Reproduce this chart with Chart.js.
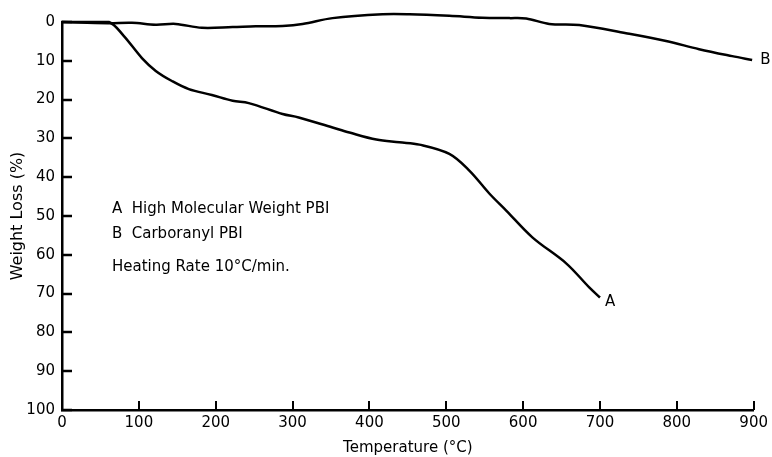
<!DOCTYPE html>
<html lang="en">
<head>
    <meta charset="UTF-8">
    <title>Weight Loss of PBI</title>
    <script src="https://cdn.jsdelivr.net/npm/chart.js"></script>
    <style>
        html, body { margin: 0; padding: 0; background: #fff; }
        #wrap { width: 772px; height: 457px; }
    </style>
</head>
<body>
    <div id="wrap"><canvas id="tgaChart" width="772" height="457"></canvas></div>
    <script>
        // curve A: High Molecular Weight PBI
        const tempA = [0, 30, 61, 80, 104, 122, 143, 165, 195, 222, 243, 287, 308, 352, 374, 409, 439, 465, 504, 530, 556, 578, 612, 656, 686, 700];
        const lossA = [0, 0, 0, 3.5, 9.3, 12.6, 15.2, 17.3, 18.8, 20.3, 20.9, 23.7, 24.6, 27.2, 28.5, 30.3, 31.0, 31.6, 34.0, 38.3, 44.2, 48.6, 55.5, 62.2, 68.4, 71];
        // curve B: Carboranyl PBI
        const tempB = [0, 60, 91, 122, 148, 182, 222, 252, 287, 313, 352, 417, 452, 504, 547, 582, 604, 634, 673, 734, 786, 829, 872, 898];
        const lossB = [0, 0.3, 0.2, 0.7, 0.5, 1.5, 1.3, 1.1, 1.0, 0.5, -1.0, -2.0, -2.0, -1.6, -1.1, -1.0, -0.9, 0.5, 0.8, 2.9, 4.9, 7.0, 8.8, 9.8];
        const xTicks = [0, 100, 200, 300, 400, 500, 600, 700, 800, 900];
        const yTicks = [0, 10, 20, 30, 40, 50, 60, 70, 80, 90, 100];
        const notes = ['A  High Molecular Weight PBI', 'B  Carboranyl PBI', 'Heating Rate 10\u00B0C/min.'];

        const FONT = 'DejaVu Sans';

        // ticks on both axes point into the plot; also the A / B curve labels and the notes
        const extras = {
            id: 'extras',
            afterDraw(chart) {
                const c = chart.ctx, xs = chart.scales.x, ys = chart.scales.y, area = chart.chartArea;
                c.save();
                c.strokeStyle = '#000';
                c.lineWidth = 2;
                xTicks.forEach(t => {
                    const px = Math.round(xs.getPixelForValue(t));
                    c.beginPath();
                    c.moveTo(px, area.bottom);
                    c.lineTo(px, area.bottom - 9);
                    c.stroke();
                });
                c.lineWidth = 2.5;
                yTicks.forEach(t => {
                    const py = Math.round(ys.getPixelForValue(t));
                    c.beginPath();
                    c.moveTo(area.left - 1, py);
                    c.lineTo(area.left + 10, py);
                    c.stroke();
                });
                c.fillStyle = '#000';
                c.font = '15px ' + FONT;
                c.textBaseline = 'middle';
                c.textAlign = 'left';
                c.fillText('A', xs.getPixelForValue(tempA[tempA.length - 1]) + 5, ys.getPixelForValue(lossA[lossA.length - 1]) + 5);
                c.fillText('B', xs.getPixelForValue(tempB[tempB.length - 1]) + 8, ys.getPixelForValue(lossB[lossB.length - 1]));
                const lx = xs.getPixelForValue(65);
                c.fillText(notes[0], lx, ys.getPixelForValue(48.2));
                c.fillText(notes[1], lx, ys.getPixelForValue(54.7));
                c.fillText(notes[2], lx, ys.getPixelForValue(63.3));
                c.restore();
            }
        };

        const ctx = document.getElementById('tgaChart').getContext('2d');
        new Chart(ctx, {
            type: 'line',
            data: {
                datasets: [
                    { label: 'A', data: tempA.map((t, i) => ({ x: t, y: lossA[i] })), borderColor: '#000', borderWidth: 2.5, pointRadius: 0, tension: 0.35, fill: false, clip: false },
                    { label: 'B', data: tempB.map((t, i) => ({ x: t, y: lossB[i] })), borderColor: '#000', borderWidth: 2.5, pointRadius: 0, tension: 0.35, fill: false, clip: false }
                ]
            },
            options: {
                responsive: false,
                animation: false,
                layout: { padding: { top: 22, right: 18, left: 0, bottom: 0 } },
                plugins: { legend: { display: false }, tooltip: { enabled: false } },
                scales: {
                    x: {
                        type: 'linear', min: 0, max: 900,
                        afterBuildTicks: s => { s.ticks = xTicks.map(v => ({ value: v })); },
                        afterFit: s => { s.height = 47; },
                        grid: { display: false, drawTicks: false },
                        border: { display: true, color: '#000', width: 2.5 },
                        ticks: { color: '#000', font: { family: FONT, size: 15 }, padding: 4, maxRotation: 0 },
                        title: { display: true, text: 'Temperature (\u00B0C)', color: '#000', font: { family: FONT, size: 15 }, padding: { top: 0, bottom: 0 } }
                    },
                    y: {
                        type: 'linear', min: 0, max: 100, reverse: true,
                        afterBuildTicks: s => { s.ticks = yTicks.map(v => ({ value: v })); },
                        afterFit: s => { s.width = 62; },
                        grid: { display: false, drawTicks: false },
                        border: { display: true, color: '#000', width: 2.5 },
                        ticks: { color: '#000', font: { family: FONT, size: 15 }, padding: 7 },
                        title: { display: true, text: 'Weight Loss (%)', color: '#000', font: { family: FONT, size: 16 }, padding: { top: 8, bottom: 0 } }
                    }
                }
            },
            plugins: [extras]
        });
    </script>
</body>
</html>
